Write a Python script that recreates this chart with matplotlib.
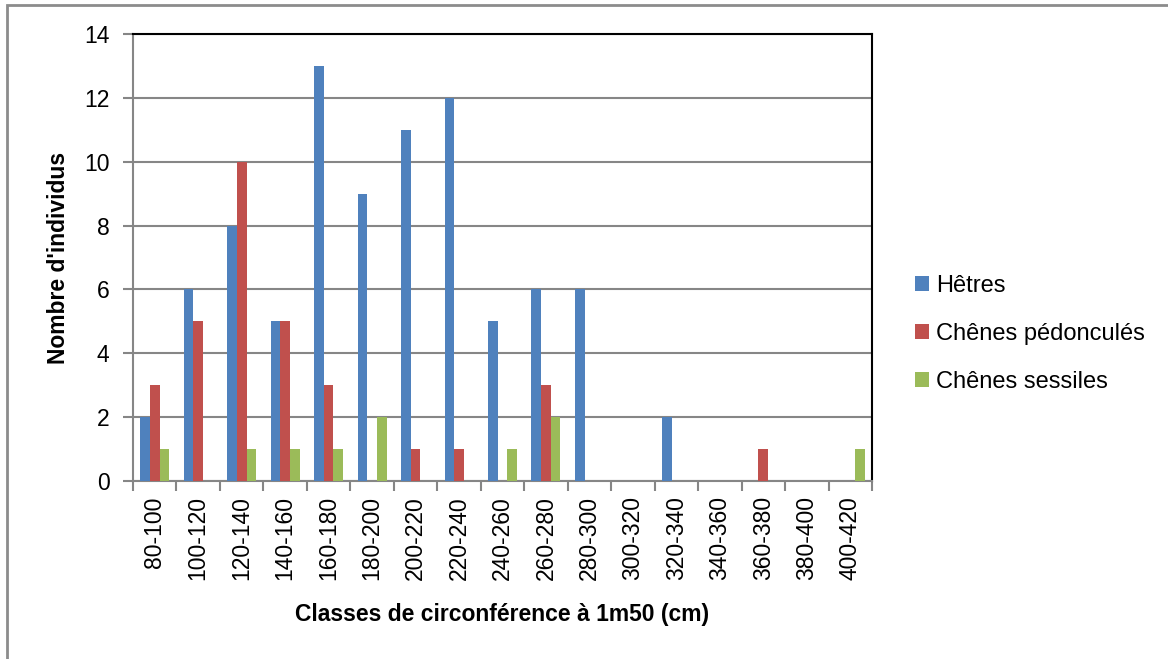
import numpy as np
import matplotlib.pyplot as plt
from matplotlib.patches import Rectangle

# Classes de circonférence et effectifs
classes = ['80-100', '100-120', '120-140', '140-160', '160-180', '180-200',
           '200-220', '220-240', '240-260', '260-280', '280-300', '300-320',
           '320-340', '340-360', '360-380', '380-400', '400-420']
hetres = [2, 6, 8, 5, 13, 9, 11, 12, 5, 6, 6, 0, 2, 0, 0, 0, 0]
chenes_ped = [3, 5, 10, 5, 3, 0, 1, 1, 0, 3, 0, 0, 0, 0, 1, 0, 0]
chenes_ses = [1, 0, 1, 1, 1, 2, 0, 0, 1, 2, 0, 0, 0, 0, 0, 0, 1]

series = [('Hêtres', hetres, '#4F81BD'),
          ('Chênes pédonculés', chenes_ped, '#C0504D'),
          ('Chênes sessiles', chenes_ses, '#9BBB59')]

plt.rcParams['font.family'] = ['Liberation Sans', 'DejaVu Sans']

fig = plt.figure(figsize=(11.68, 6.59), dpi=100)
ax = fig.add_axes([133 / 1168, 1 - 481 / 659, (872 - 133) / 1168, (481 - 34) / 659])

x = np.arange(len(classes))
w = 1 / 4.5
for i, (nom, vals, col) in enumerate(series):
    ax.bar(x + (i - 1) * w, vals, width=w, color=col, label=nom, zorder=3)

ax.set_xlim(-0.5, len(classes) - 0.5)
ax.set_ylim(0, 14)
ax.set_yticks(range(0, 15, 2))
ax.grid(axis='y', color='#868686', linewidth=1.5, zorder=0)

# ticks entre les catégories
ax.set_xticks(np.arange(-0.5, len(classes), 1))
ax.set_xticklabels([])
ax.set_xticks(x, minor=True)
ax.set_xticklabels(classes, minor=True, rotation=90, fontsize=16.5)
ax.tick_params(axis='x', which='minor', length=0, pad=11)
ax.tick_params(axis='x', which='major', length=7, width=1.5, color='#868686')
ax.tick_params(axis='y', length=7, width=1.5, color='#868686', labelsize=16.5, pad=10)

ax.spines['left'].set_color('#868686')
ax.spines['bottom'].set_color('#868686')
ax.spines['left'].set_linewidth(1.5)
ax.spines['bottom'].set_linewidth(1.5)
ax.spines['top'].set_color('black')
ax.spines['right'].set_color('black')
ax.spines['top'].set_linewidth(1.5)
ax.spines['right'].set_linewidth(1.5)

ax.set_ylabel("Nombre d'individus", fontsize=16.5, fontweight='bold')
ax.yaxis.set_label_coords(-0.085, 0.5)
ax.set_xlabel('Classes de circonférence à 1m50 (cm)', fontsize=16.5, fontweight='bold')
ax.xaxis.set_label_coords(0.5, -0.273)

ax.legend(loc='center left', bbox_to_anchor=(1.058, 0.329), frameon=False, fontsize=17,
          handlelength=0.6, handleheight=0.6, labelspacing=1.1, handletextpad=0.3,
          borderpad=0, borderaxespad=0)

# cadre du graphique
fig.patches.append(Rectangle((7 / 1168, -0.01), 1.02, 1 - 5 / 659 + 0.01, transform=fig.transFigure,
                             fill=False, edgecolor='#8c8c8c', linewidth=2))

fig.savefig('out.png', dpi=100)
